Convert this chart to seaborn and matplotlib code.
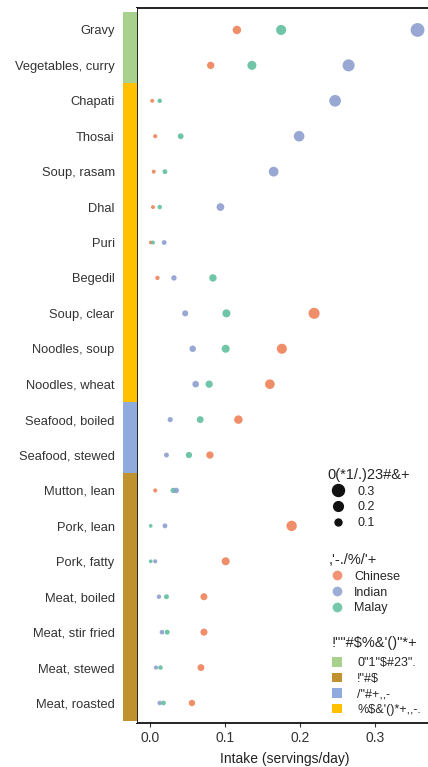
import numpy as np
import pandas as pd
import matplotlib
matplotlib.use("Agg")
import matplotlib.pyplot as plt
from matplotlib.lines import Line2D
from matplotlib.patches import Patch
import seaborn as sns

# Food items, top to bottom
foods = [
    "Gravy", "Vegetables, curry", "Chapati", "Thosai", "Soup, rasam", "Dhal",
    "Puri", "Begedil", "Soup, clear", "Noodles, soup", "Noodles, wheat",
    "Seafood, boiled", "Seafood, stewed", "Mutton, lean", "Pork, lean",
    "Pork, fatty", "Meat, boiled", "Meat, stir fried", "Meat, stewed",
    "Meat, roasted",
]

# Intake (servings/day) per ethnic group
chinese = [0.116, 0.081, 0.003, 0.007, 0.005, 0.004, 0.001, 0.010, 0.219, 0.176,
           0.160, 0.118, 0.080, 0.007, 0.189, 0.101, 0.072, 0.072, 0.068, 0.056]
indian = [0.357, 0.265, 0.247, 0.199, 0.165, 0.094, 0.019, 0.032, 0.047, 0.057,
          0.061, 0.027, 0.022, 0.035, 0.020, 0.007, 0.012, 0.016, 0.008, 0.013]
malay = [0.175, 0.136, 0.013, 0.041, 0.020, 0.013, 0.004, 0.084, 0.102, 0.101,
         0.079, 0.067, 0.052, 0.031, 0.001, 0.001, 0.022, 0.023, 0.014, 0.018]

# Food group of each item (index into group labels)
food_group = [0, 0, 3, 3, 3, 3, 3, 3, 3, 3, 3, 2, 2, 1, 1, 1, 1, 1, 1, 1]
group_labels = ['0"1"$#23".', '!"#$', '/"#+,,-', "%$&'()*+,,-."]
group_colors = ["#a9d18e", "#c0922f", "#8faadc", "#ffc000"]

ethnicities = ["Chinese", "Indian", "Malay"]
eth_colors = {"Chinese": "#f0825a", "Indian": "#8d9fcf", "Malay": "#5fbf9c"}

size_ticks = [0.3, 0.2, 0.1]
size_title = "0(*1/.)23#&+"
hue_title = ",'-./%/'+"
group_title = '!""#$%&\'()"*+'

sns.set_theme(style="white")
plt.rcParams["font.family"] = ["Liberation Sans", "DejaVu Sans"]

df = pd.DataFrame({
    "food": np.repeat(foods, 3),
    "ethnicity": ethnicities * len(foods),
    "intake": np.ravel(np.column_stack([chinese, indian, malay])),
})
df["row"] = df["food"].map({f: i for i, f in enumerate(foods)})
df = df.sort_values(["row", "intake"]).reset_index(drop=True)

W, H = 428, 767
fig = plt.figure(figsize=(W / 100, H / 100), dpi=100)
ax = fig.add_axes([137 / W, 1 - 723 / H, (432 - 137) / W, (723 - 8) / H])
ax_strip = fig.add_axes([123 / W, 1 - 723 / H, 14 / W, (723 - 8) / H], sharey=ax)

size_range = (7, 100)
size_norm = (0.0, 0.36)

sns.scatterplot(
    data=df, x="intake", y="row", hue="ethnicity", palette=eth_colors,
    size="intake", sizes=size_range, size_norm=size_norm,
    alpha=0.9, linewidth=0, legend=False, ax=ax, zorder=3,
)

ax.set_xlim(-0.0173, 0.3763)
ax.set_ylim(len(foods) - 1 + 0.565, -0.62)
ax.set_xticks([0.0, 0.1, 0.2, 0.3])
ax.set_xticklabels(["0.0", "0.1", "0.2", "0.3"])
ax.set_yticks(range(len(foods)))
ax.tick_params(axis="x", labelsize=10, labelcolor="#333333", length=3,
               width=0.8, color="#333333", bottom=True, pad=3)
ax.tick_params(axis="y", left=True, labelleft=False, length=3, width=0.8,
               color="#333333")
ax.set_xlabel("Intake (servings/day)", fontsize=10, color="#222222", labelpad=5)
ax.set_ylabel("")
for side, sp in ax.spines.items():
    sp.set_color("#111111")
    sp.set_linewidth(1.3)

# Food-group colour strip beside the y axis
ax_strip.barh(range(len(foods)), [1] * len(foods), height=1.0, left=0,
              color=[group_colors[g] for g in food_group], linewidth=0)
ax_strip.set_xlim(0, 1)
ax_strip.set_ylim(len(foods) - 1 + 0.565, -0.62)
for sp in ax_strip.spines.values():
    sp.set_visible(False)
ax_strip.set_xticks([])
ax_strip.tick_params(axis="y", left=False, labelleft=True, labelsize=9.3,
                     labelcolor="#333333", length=0, pad=6)
ax_strip.set_yticks(range(len(foods)))
ax_strip.set_yticklabels(foods)

# Legends
def msize(v):
    lo, hi = size_norm
    s = size_range[0] + (v - lo) / (hi - lo) * (size_range[1] - size_range[0])
    return np.sqrt(s)

size_handles = [Line2D([], [], marker="o", linestyle="", color="#111111",
                       markersize=msize(v) * 1.05, markeredgewidth=0) for v in size_ticks]
hue_handles = [Line2D([], [], marker="o", linestyle="", color=eth_colors[e],
                      alpha=0.85, markersize=7, markeredgewidth=0) for e in ethnicities]
group_handles = [Patch(facecolor=c, edgecolor="none") for c in group_colors]

common = dict(frameon=False, loc="upper left", fontsize=9, title_fontsize=10.5,
              alignment="left", borderaxespad=0)

leg1 = fig.legend(size_handles, [f"{v:.1f}" for v in size_ticks], title=size_title,
                  bbox_to_anchor=(322 / W, 1 - 463 / H), handlelength=1.7,
                  handletextpad=0.7, labelspacing=0.3, **common)
leg2 = fig.legend(hue_handles, ethnicities, title=hue_title,
                  bbox_to_anchor=(324 / W, 1 - 548 / H), handlelength=1.3,
                  handletextpad=0.7, labelspacing=0.3, **common)
leg3 = fig.legend(group_handles, group_labels, title=group_title,
                  bbox_to_anchor=(327 / W, 1 - 631 / H), handlelength=0.8,
                  handleheight=0.8, handletextpad=1.2, labelspacing=0.28, **common)
leg3._legend_box.sep = 5

fig.savefig("out.png", dpi=100)
